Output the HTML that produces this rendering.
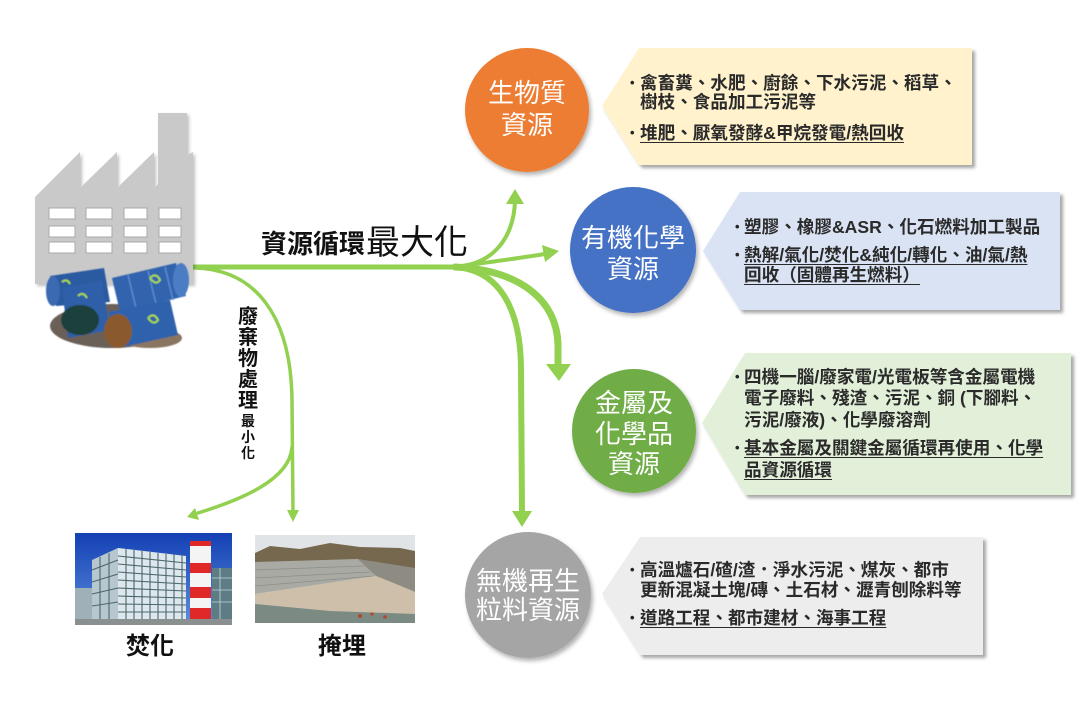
<!DOCTYPE html>
<html><head><meta charset="utf-8">
<style>
html,body{margin:0;padding:0;background:#fff;}
#c{position:relative;width:1080px;height:720px;overflow:hidden;background:#fff;font-family:"Liberation Sans","Noto Sans CJK TC",sans-serif;}
svg{position:absolute;left:0;top:0;}
.t{position:absolute;white-space:nowrap;font-size:17.6px;line-height:20px;height:20px;color:#2a2a2a;font-weight:bold;}
.u{text-decoration:underline;text-decoration-thickness:1px;text-underline-offset:3px;}
.b{position:absolute;font-size:13px;line-height:20px;height:20px;color:#262626;font-weight:bold;}
</style></head><body><div id="c">
<svg width="1080" height="720" viewBox="0 0 1080 720" font-family="Liberation Sans, Noto Sans CJK TC, sans-serif">
<defs>
  <filter id="sh" x="-20%" y="-20%" width="140%" height="140%"><feDropShadow dx="2" dy="3" stdDeviation="2" flood-color="#000" flood-opacity="0.3"/></filter>
  <filter id="bs" x="-5%" y="-10%" width="115%" height="130%"><feDropShadow dx="3" dy="3" stdDeviation="1.5" flood-color="#000" flood-opacity="0.35"/></filter>
  <filter id="fs" x="-10%" y="-10%" width="130%" height="130%"><feDropShadow dx="2" dy="2" stdDeviation="1.5" flood-color="#000" flood-opacity="0.25"/></filter>
  <filter id="soft"><feGaussianBlur stdDeviation="0.6"/></filter>
  <linearGradient id="sky" x1="0" y1="0" x2="0" y2="1">
    <stop offset="0" stop-color="#1440b4"/><stop offset="1" stop-color="#5b8fdc"/>
  </linearGradient>
  <clipPath id="p1"><rect x="75" y="533" width="157" height="92"/></clipPath>
  <clipPath id="p2"><rect x="255" y="535" width="160" height="88"/></clipPath>
</defs>

<!-- callout boxes -->
<polygon points="602,106 639,48 972,48 972,165 639,165" fill="#fff2cc" filter="url(#bs)"/>
<polygon points="703,251 740,192 1060,192 1060,310 740,310" fill="#dae3f3" filter="url(#bs)"/>
<polygon points="702,423 745,353 1071,353 1071,495 745,495" fill="#e2f0d9" filter="url(#bs)"/>
<polygon points="602,594 640,537 983,537 983,655 640,655" fill="#ededed" filter="url(#bs)"/>

<!-- circles -->
<circle cx="527" cy="110" r="62" fill="#ed7d31" filter="url(#sh)"/>
<circle cx="633" cy="250" r="63" fill="#4472c4" filter="url(#sh)"/>
<circle cx="634" cy="431" r="62" fill="#70ad47" filter="url(#sh)"/>
<circle cx="528" cy="595" r="63" fill="#a5a5a5" filter="url(#sh)"/>

<g fill="#fff" font-size="26" text-anchor="middle">
  <text x="527" y="102">生物質</text>
  <text x="527" y="134">資源</text>
  <text x="633" y="247">有機化學</text>
  <text x="633" y="278">資源</text>
  <text x="634" y="412">金屬及</text>
  <text x="634" y="443">化學品</text>
  <text x="634" y="473">資源</text>
  <text x="528" y="590">無機再生</text>
  <text x="528" y="619">粒料資源</text>
</g>

<!-- connectors -->
<g fill="none" stroke="#92d050" stroke-linecap="round">
  <path d="M193,267 H470" stroke-width="5"/>
  <path d="M462,266 C492,262 513,240 515,202" stroke-width="4"/>
  <path d="M462,266 C490,262 520,258 545,254" stroke-width="4"/>
  <path d="M455,267 C500,270 521,310 521,370 L522,513" stroke-width="6"/>
  <path d="M455,267 C520,270 557,300 558,345 L558,366" stroke-width="7"/>
  <path d="M196,268 C255,270 291,315 292,400 L293,512" stroke-width="3.5"/>
  <path d="M292,447 C290,480 240,500 198,513" stroke-width="3.5"/>
</g>
<g fill="#92d050">
  <polygon points="515,189 506,204 524,204"/>
  <polygon points="559,251 545,262 542,245"/>
  <polygon points="512,511 532,511 522,527"/>
  <polygon points="546,364 571,364 559,381"/>
  <polygon points="287,510 299,510 293,522"/>
  <polygon points="187,517 199,520 195,508"/>
</g>

<!-- main label -->
<text x="261" y="253" font-size="26" font-weight="bold" fill="#111">資源循環</text>
<text x="366" y="254" font-size="34" fill="#111">最大化</text>

<!-- vertical label -->
<g font-size="20" font-weight="bold" fill="#111" text-anchor="middle">
  <text x="248" y="323">廢</text>
  <text x="248" y="344">棄</text>
  <text x="248" y="365">物</text>
  <text x="248" y="386">處</text>
  <text x="248" y="407">理</text>
</g>
<g font-size="14" font-weight="bold" fill="#111" text-anchor="middle">
  <text x="248" y="426">最</text>
  <text x="248" y="442">小</text>
  <text x="248" y="458">化</text>
</g>

<!-- factory -->
<g filter="url(#fs)">
  <polygon points="35,284 35,197 80,152 80,188 117,152 117,188 154,152 154,188 158,184 158,113 187,113 187,155 193,152 193,284" fill="#c9c9c9"/>
</g>
<g fill="#fff" stroke="#a9a9a9" stroke-width="1">
  <rect x="49" y="208" width="26" height="11"/><rect x="86" y="208" width="26" height="11"/><rect x="124" y="208" width="23" height="11"/><rect x="159" y="208" width="22" height="11"/>
  <rect x="49" y="226" width="26" height="11"/><rect x="86" y="226" width="26" height="11"/><rect x="124" y="226" width="23" height="11"/><rect x="159" y="226" width="22" height="11"/>
  <rect x="49" y="242" width="26" height="11"/><rect x="86" y="242" width="26" height="11"/><rect x="124" y="242" width="23" height="11"/><rect x="159" y="242" width="22" height="11"/>
</g>

<!-- barrels -->
<g filter="url(#soft)">
  <ellipse cx="112" cy="326" rx="62" ry="22" fill="#6a6058"/>
  <ellipse cx="150" cy="338" rx="32" ry="10" fill="#8a7560"/>
  <polygon points="50,276 104,268 110,302 56,306" fill="#2c5aa0"/>
  <ellipse cx="53" cy="291" rx="7" ry="15" fill="#3a6ab2"/>
  <polygon points="112,278 176,263 186,296 120,312" fill="#3064ae"/>
  <ellipse cx="181" cy="280" rx="8" ry="17" fill="#4b7dc4"/>
  <g stroke="#5b8cd0" stroke-width="1.5"><line x1="128" y1="275" x2="136" y2="308"/><line x1="148" y1="271" x2="156" y2="304"/><line x1="165" y1="267" x2="173" y2="300"/></g>
  <polygon points="62,288 102,280 110,330 68,338" fill="#2d5ea8"/>
  <ellipse cx="80" cy="320" rx="19" ry="15" fill="#1d3f3a"/>
  <polygon points="108,312 170,300 178,335 118,348" fill="#2f62ac"/>
  <ellipse cx="118" cy="331" rx="14" ry="17" fill="#8a5a2e"/>
  <g stroke="#a8d84a" stroke-width="2" fill="none">
    <path d="M150,278 q6,-6 10,2 q-4,6 -10,-2"/>
    <path d="M148,318 q6,-6 10,2 q-4,6 -10,-2"/>
    <path d="M78,296 q5,-5 9,2"/>
    <path d="M62,282 q5,-4 8,2"/>
  </g>
</g>

<!-- incineration photo -->
<g clip-path="url(#p1)">
  <rect x="75" y="533" width="157" height="92" fill="url(#sky)"/>
  <rect x="75" y="588" width="22" height="37" fill="#9fb0b8"/>
  <polygon points="92,560 118,548 118,625 92,625" fill="#b7c7cf"/>
  <polygon points="118,548 186,556 186,625 118,625" fill="#dde7ee"/>
  <g stroke="#4d676b" stroke-width="1.1">
    <line x1="118" y1="556" x2="186" y2="563"/><line x1="118" y1="564" x2="186" y2="570"/>
    <line x1="118" y1="572" x2="186" y2="577"/><line x1="118" y1="580" x2="186" y2="584"/>
    <line x1="118" y1="588" x2="186" y2="591"/><line x1="118" y1="596" x2="186" y2="598"/>
    <line x1="118" y1="604" x2="186" y2="605"/><line x1="118" y1="612" x2="186" y2="612"/>
    <line x1="126" y1="549" x2="126" y2="625"/><line x1="134" y1="550" x2="134" y2="625"/>
    <line x1="142" y1="551" x2="142" y2="625"/><line x1="150" y1="552" x2="150" y2="625"/>
    <line x1="158" y1="553" x2="158" y2="625"/><line x1="166" y1="554" x2="166" y2="625"/>
    <line x1="174" y1="554" x2="174" y2="625"/><line x1="182" y1="555" x2="182" y2="625"/>
    <line x1="92" y1="570" x2="118" y2="560"/><line x1="92" y1="582" x2="118" y2="574"/>
    <line x1="92" y1="594" x2="118" y2="588"/><line x1="92" y1="606" x2="118" y2="602"/>
    <line x1="100" y1="557" x2="100" y2="625"/><line x1="109" y1="553" x2="109" y2="625"/>
  </g>
  <rect x="190" y="541" width="21" height="84" fill="#f4f4f4"/>
  <rect x="190" y="541" width="21" height="5" fill="#e02828"/>
  <rect x="190" y="563" width="21" height="10" fill="#e02828"/>
  <rect x="190" y="587" width="21" height="11" fill="#e02828"/>
  <rect x="190" y="608" width="21" height="17" fill="#e02828"/>
  <rect x="212" y="568" width="20" height="57" fill="#5d7c84"/>
  <g stroke="#c9d6dc" stroke-width="0.8"><line x1="212" y1="578" x2="232" y2="578"/><line x1="212" y1="590" x2="232" y2="590"/><line x1="212" y1="602" x2="232" y2="602"/><line x1="220" y1="568" x2="220" y2="625"/></g>
  <rect x="75" y="619" width="157" height="6" fill="#8a8f90"/>
</g>

<!-- landfill photo -->
<g clip-path="url(#p2)">
  <rect x="255" y="535" width="160" height="88" fill="#e0e4e7"/>
  <polygon points="255,553 270,546 300,549 330,543 360,547 400,548 415,551 415,575 255,570" fill="#76684e"/>
  <polygon points="255,562 358,559 376,576 255,594" fill="#aaaaa4"/>
  <g stroke="#8e8e88" stroke-width="0.8"><line x1="255" y1="570" x2="364" y2="566"/><line x1="255" y1="578" x2="370" y2="572"/><line x1="255" y1="586" x2="374" y2="576"/></g>
  <polygon points="358,559 415,568 415,592 376,576" fill="#8e8c82"/>
  <polygon points="255,594 376,576 415,592 415,623 255,623" fill="#cdbfa9"/>
  <polygon points="255,604 330,611 415,614 415,623 255,623" fill="#7c8a84"/>
  <g fill="#b04a2a"><circle cx="360" cy="616" r="2"/><circle cx="372" cy="614" r="1.6"/><circle cx="385" cy="617" r="1.8"/></g>
</g>

<g font-size="24" font-weight="bold" fill="#111" text-anchor="middle">
  <text x="150" y="654">焚化</text>
  <text x="342" y="654">掩埋</text>
</g>
</svg>

<!-- box 1 -->
<div class="b" style="left:630px;top:73px">•</div>
<div class="t" style="left:640px;top:73px">禽畜糞、水肥、廚餘、下水污泥、稻草、</div>
<div class="t" style="left:640px;top:92px">樹枝、食品加工污泥等</div>
<div class="b" style="left:630px;top:123px">•</div>
<div class="t u" style="left:640px;top:123px">堆肥、厭氧發酵&amp;甲烷發電/熱回收</div>

<!-- box 2 -->
<div class="b" style="left:735px;top:217px">•</div>
<div class="t" style="left:744px;top:217px">塑膠、橡膠&amp;ASR、化石燃料加工製品</div>
<div class="b" style="left:735px;top:245px">•</div>
<div class="t u" style="left:744px;top:245px">熱解/氣化/焚化&amp;純化/轉化、油/氣/熱</div>
<div class="t u" style="left:744px;top:265px">回收（固體再生燃料）</div>

<!-- box 3 -->
<div class="b" style="left:735px;top:367px">•</div>
<div class="t" style="left:744px;top:367px">四機一腦/廢家電/光電板等含金屬電機</div>
<div class="t" style="left:744px;top:388px">電子廢料、殘渣、污泥、銅 (下腳料、</div>
<div class="t" style="left:744px;top:410px">污泥/廢液)、化學廢溶劑</div>
<div class="b" style="left:735px;top:438px">•</div>
<div class="t u" style="left:744px;top:438px">基本金屬及關鍵金屬循環再使用、化學</div>
<div class="t u" style="left:744px;top:460px">品資源循環</div>

<!-- box 4 -->
<div class="b" style="left:630px;top:560px">•</div>
<div class="t" style="left:640px;top:560px">高溫爐石/碴/渣．淨水污泥、煤灰、都市</div>
<div class="t" style="left:640px;top:580px">更新混凝土塊/磚、土石材、瀝青刨除料等</div>
<div class="b" style="left:630px;top:608px">•</div>
<div class="t u" style="left:640px;top:608px">道路工程、都市建材、海事工程</div>
</div></body></html>
